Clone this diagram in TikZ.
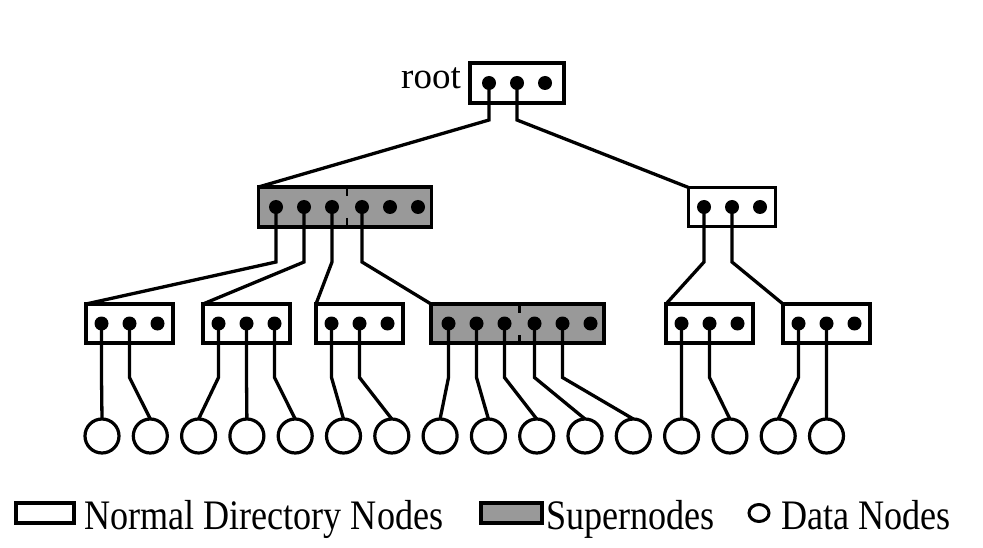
\documentclass[tikz,border=0pt]{standalone}
\usepackage{fontspec}
\setmainfont{Liberation Serif}
\newfontfamily\legendfont{Liberation Serif}[FakeStretch=0.86]
\usetikzlibrary{shapes.geometric}
\definecolor{supergray}{RGB}{153,153,153}

\tikzstyle{dirnode} = [rectangle, draw, line width=3.3pt, fill=white, minimum width=87pt, minimum height=39pt, inner sep=0pt, outer sep=0pt]
\tikzstyle{supernode} = [dirnode, fill=supergray, minimum width=173pt]
\tikzstyle{dot} = [circle, fill=black, inner sep=0pt, minimum size=14pt]
\tikzstyle{datanode} = [circle, draw, line width=3.2pt, inner sep=0pt, outer sep=0pt, minimum size=34pt]
\tikzstyle{link} = [line width=3.3pt]
\tikzstyle{divider} = [line width=2.4pt, dash pattern=on 9pt off 22pt]

\begin{document}
\begin{tikzpicture}[x=1pt, y=-1pt]
        \useasboundingbox (0,0) rectangle (983,548);
        % directory nodes
        \node (root) at (517,83) [dirnode, minimum width=94pt, minimum height=40pt] {};
        \node (rootlabel) at (461,89) [anchor=base east, inner sep=0pt, font=\fontsize{37}{40}\selectfont] {root};
        \node (sup1) at (345,207) [supernode, minimum height=40pt] {};
        \node (dir1) at (732,207) [dirnode] {};
        \node (dirA) at (129.5,323.5) [dirnode] {};
        \node (dirB) at (246.5,323.5) [dirnode] {};
        \node (dirC) at (359.5,323.5) [dirnode] {};
        \node (sup2) at (517.5,323.5) [supernode] {};
        \node (dirE) at (709.5,323.5) [dirnode] {};
        \node (dirF) at (826.5,323.5) [dirnode] {};
        \draw[divider] ([xshift=2pt]sup1.north) -- ([xshift=2pt]sup1.south);
        \draw[divider] ([xshift=2pt]sup2.north) -- ([xshift=2pt]sup2.south);
        % pointers
        \foreach \n in {root, dir1, dirA, dirB, dirC, dirE, dirF}
            \foreach \i/\dx in {1/-28, 2/0, 3/28}
                \node (\n-\i) at (\n.center) [dot, xshift=\dx] {};
        \foreach \n in {sup1, sup2}
            \foreach \i/\dx in {1/-69, 2/-41, 3/-13, 4/17, 5/45, 6/73}
                \node (\n-\i) at (\n.center) [dot, xshift=\dx] {};
        % data nodes
        \foreach \i in {1,...,16}
            \node (d\i) at ({102+48.3*(\i-1)},436) [datanode] {};
        % links
        \foreach \a/\b in {root-1/sup1, root-2/dir1}
            \draw[link] (\a.center) -- ++(0,37) -- (\b.north west);
        \foreach \a/\b in {sup1-1/dirA, sup1-2/dirB, sup1-3/dirC, sup1-4/sup2, dir1-1/dirE, dir1-2/dirF}
            \draw[link] (\a.center) -- ++(0,55) -- (\b.north west);
        \foreach \a/\b in {dirA-1/d1, dirA-2/d2, dirB-1/d3, dirB-2/d4, dirB-3/d5, dirC-1/d6, dirC-2/d7,
                           sup2-1/d8, sup2-2/d9, sup2-3/d10, sup2-4/d11, sup2-5/d12,
                           dirE-1/d13, dirE-2/d14, dirF-1/d15, dirF-2/d16}
            \draw[link] (\a.center) -- ++(0,54) -- (\b.north);
        % legend
        \node (legdir) at (45,513) [dirnode, line width=3.4pt, minimum width=58pt, minimum height=20pt] {};
        \node (legdirtext) at (84,529) [anchor=base west, inner sep=0pt, font=\legendfont\fontsize{42}{46}\selectfont] {Normal Directory Nodes};
        \node (legsup) at (511.5,513) [supernode, line width=3.4pt, minimum width=61pt, minimum height=20pt] {};
        \node (legsuptext) at (546,529) [anchor=base west, inner sep=0pt, font=\legendfont\fontsize{42}{46}\selectfont] {Supernodes};
        \node (legdata) at (759,513) [ellipse, draw, line width=3pt, inner sep=0pt, minimum width=20pt, minimum height=17pt] {};
        \node (legdatatext) at (781,529) [anchor=base west, inner sep=0pt, font=\legendfont\fontsize{42}{46}\selectfont] {Data Nodes};
    \end{tikzpicture}
\end{document}
